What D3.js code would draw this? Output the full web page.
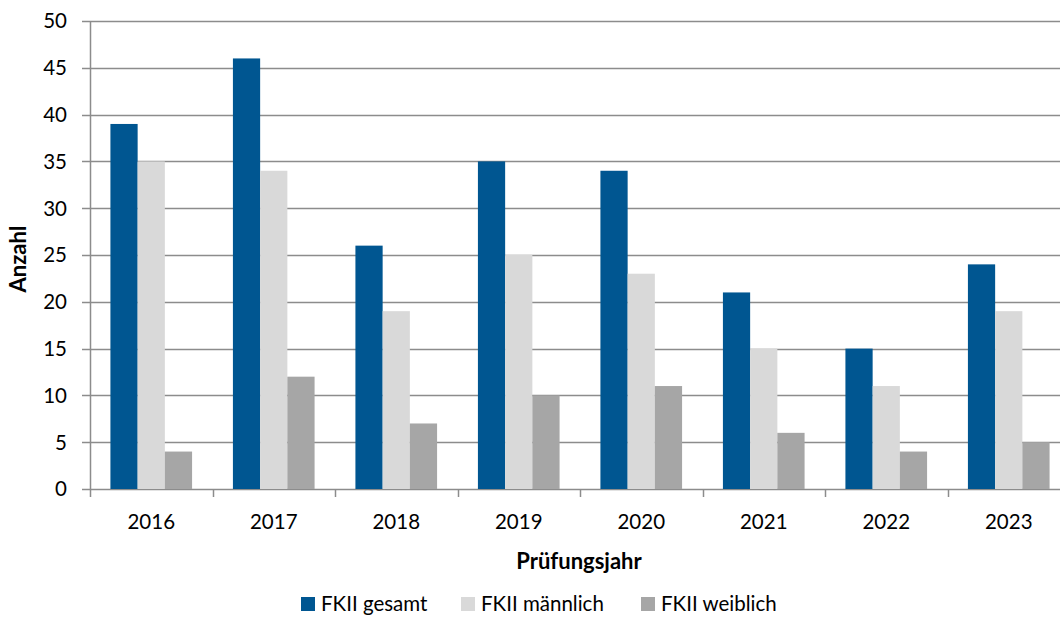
<!DOCTYPE html>
<html>
<head>
<meta charset="utf-8">
<script src="https://cdn.jsdelivr.net/npm/d3@7"></script>
<style>
body { margin: 0; background: #fff; overflow: hidden; }
text { font-family: Lato, "Open Sans", sans-serif; fill: #000; }
</style>
</head>
<body>
<svg id="chart"></svg>
<script>
var years = ["2016", "2017", "2018", "2019", "2020", "2021", "2022", "2023"];
var seriesNames = ["FKII gesamt", "FKII männlich", "FKII weiblich"];
var gesamt = [39, 46, 26, 35, 34, 21, 15, 24];
var maennlich = [35, 34, 19, 25, 23, 15, 11, 19];
var weiblich = [4, 12, 7, 10, 11, 6, 4, 5];
var yTicks = [0, 5, 10, 15, 20, 25, 30, 35, 40, 45, 50];
var colors = ["#005691", "#d9d9d9", "#a6a6a6"];

var w = 1060;
var h = 617;
var fs = "20.5px";
var margin = {
	left: 90,
	right: -10,
	top: 21,
	bottom: 128
};

var svg = d3.select("#chart")
	.attr("width", w)
	.attr("height", h);

var xScale = d3.scaleBand()
	.domain(years)
	.range([margin.left, w - margin.right]);
// Excel style gap: 150% of bar width, half on each side
var inner = d3.scaleBand()
	.domain(seriesNames)
	.range([0, xScale.bandwidth()])
	.paddingOuter(0.75);
var yScale = d3.scaleLinear()
	.domain([0, 50])
	.range([h - margin.bottom, margin.top]);

// gridlines
svg.append("g")
	.selectAll("line")
	.data(yTicks)
	.enter()
	.append("line")
	.attr("x1", margin.left - 8)
	.attr("x2", w)
	.attr("y1", function (d) { return Math.round(yScale(d)) + 0.5; })
	.attr("y2", function (d) { return Math.round(yScale(d)) + 0.5; })
	.attr("stroke", "#8c8c8c")
	.attr("stroke-width", 1.5);

var data = [gesamt, maennlich, weiblich];
data.forEach(function (vals, i) {
	svg.append("g")
		.selectAll("rect")
		.data(vals)
		.enter()
		.append("rect")
		.attr("x", function (d, j) { return xScale(years[j]) + inner(seriesNames[i]); })
		.attr("width", inner.bandwidth())
		.attr("y", function (d) { return yScale(d); })
		.attr("height", function (d) { return yScale(0) - yScale(d); })
		.attr("fill", colors[i]);
});

// y axis line
svg.append("line")
	.attr("x1", margin.left + 0.5)
	.attr("x2", margin.left + 0.5)
	.attr("y1", yScale(50))
	.attr("y2", yScale(0) + 8)
	.attr("stroke", "#8c8c8c")
	.attr("stroke-width", 1.5);

// y labels
svg.append("g")
	.selectAll("text")
	.data(yTicks)
	.enter()
	.append("text")
	.attr("x", 67)
	.attr("y", function (d) { return yScale(d); })
	.attr("dy", "0.36em")
	.attr("text-anchor", "end")
	.style("font-size", fs)
	.text(function (d) { return d; });

// x ticks at category boundaries
svg.append("g")
	.selectAll("line")
	.data(years.slice(1))
	.enter()
	.append("line")
	.attr("x1", function (d) { return Math.round(xScale(d)) + 0.5; })
	.attr("x2", function (d) { return Math.round(xScale(d)) + 0.5; })
	.attr("y1", yScale(0))
	.attr("y2", yScale(0) + 8)
	.attr("stroke", "#8c8c8c")
	.attr("stroke-width", 1.5);

svg.append("g")
	.selectAll("text")
	.data(years)
	.enter()
	.append("text")
	.attr("x", function (d) { return xScale(d) + xScale.bandwidth() / 2; })
	.attr("y", 529)
	.attr("text-anchor", "middle")
	.style("font-size", fs)
	.text(function (d) { return d; });

// axis titles
svg.append("text")
	.attr("x", 579)
	.attr("y", 569)
	.attr("text-anchor", "middle")
	.style("font-size", "22px")
	.style("font-weight", "bold")
	.text("Prüfungsjahr");
svg.append("text")
	.attr("transform", "translate(26,259) rotate(-90)")
	.attr("text-anchor", "middle")
	.style("font-size", "22px")
	.style("font-weight", "bold")
	.text("Anzahl");

// legend
var legendX = [301, 461, 641];
var legend = svg.append("g")
	.selectAll("g")
	.data(seriesNames)
	.enter()
	.append("g")
	.attr("transform", function (d, i) { return "translate(" + legendX[i] + ",597)"; });
legend.append("rect")
	.attr("width", 14)
	.attr("height", 14)
	.attr("fill", function (d, i) { return colors[i]; });
legend.append("text")
	.attr("x", 20)
	.attr("y", 14)
	.style("font-size", fs)
	.text(function (d) { return d; });
</script>
</body>
</html>
